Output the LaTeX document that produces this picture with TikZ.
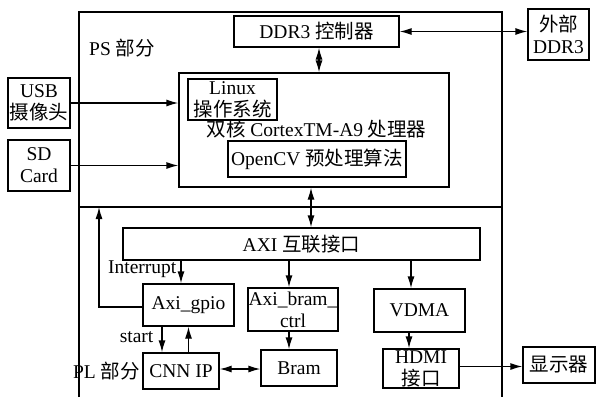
\documentclass[tikz,border=0pt]{standalone}
\usepackage{fontspec}
\setmainfont{Liberation Serif}
\newfontfamily\cjk{Noto Sans CJK SC}
\usetikzlibrary{positioning,arrows.meta}

\newcommand{\zh}[1]{{\cjk #1}}

\tikzset{
  block/.style={draw, line width=1.3pt, inner sep=0pt, align=center,
    font=\fontsize{19.5}{22}\selectfont},
  tag/.style={inner sep=0pt, font=\fontsize{19.5}{22}\selectfont},
}

\begin{document}
\begin{tikzpicture}[x=1pt, y=-1pt, line width=1.3pt,
    >={Latex[length=12pt,width=7pt]}]
    \useasboundingbox (0,0) rectangle (596,397);

    % PS / PL frame
    \draw (79,397) |- (502,12) -- (502,397);
    \draw (79,207) -- (502,207);
    \node[tag] (PsText) at (122,48) {PS \zh{部分}};

    % PS side
    \node[block, minimum width=165pt, minimum height=31pt] (DdrCtrl) at (316.5,31.5) {DDR3 \zh{控制器}};
    \node[block, minimum width=61pt, minimum height=51pt] (ExtDdr) at (558.5,34.5) {\zh{外部}\\DDR3};
    \node[block, minimum width=270pt, minimum height=114pt] (Cpu) at (314,130) {};
    \node[block, minimum width=89pt, minimum height=41pt] (Linux) at (232.5,99.5) {Linux\\\zh{操作系统}};
    \node[tag] (CpuText) at (316.5,129) {\zh{双核} CortexTM-A9 \zh{处理器}};
    \node[block, minimum width=178pt, minimum height=36pt] (OpenCv) at (317,159) {OpenCV \zh{预处理算法}};
    \node[block, minimum width=62pt, minimum height=50pt] (Usb) at (39,103) {USB\\\zh{摄像头}};
    \node[block, minimum width=62pt, minimum height=51pt] (Sd) at (39,165.5) {SD\\Card};

    % PL side
    \node[block, minimum width=357pt, minimum height=32pt] (Axi) at (301.5,244) {AXI \zh{互联接口}};
    \node[block, minimum width=91pt, minimum height=42pt] (Gpio) at (188.5,305) {Axi\_gpio};
    \node[block, minimum width=90pt, minimum height=43pt] (BramCtrl) at (293,309.5) {Axi\_bram\_\\ctrl};
    \node[block, minimum width=91pt, minimum height=43pt] (Vdma) at (419.5,310.5) {VDMA};
    \node[block, minimum width=76pt, minimum height=36pt] (Cnn) at (181,371) {CNN IP};
    \node[block, minimum width=76pt, minimum height=36pt] (Bram) at (299,368) {Bram};
    \node[block, minimum width=76pt, minimum height=39pt] (Hdmi) at (421,368.5) {HDMI\\\zh{接口}};
    \node[block, minimum width=72pt, minimum height=36pt] (Disp) at (559,365) {\zh{显示器}};
    \node[tag, left=2pt of Cnn] (PlText) {PL \zh{部分}};
    \node[tag, anchor=east] (IrqText) at (177,269) {Interrupt};
    \node[tag, anchor=east] (StartText) at (154,337) {start};
    \coordinate (IrqTop) at (99,207);

    \draw[<->] (DdrCtrl.east) -- (ExtDdr.west |- DdrCtrl.east);
    \draw[<->] ([xshift=2.5pt]DdrCtrl.south) -- ([xshift=2.5pt]DdrCtrl.south |- Cpu.north);
    \draw[->] (Usb.east) -- (Usb.east -| Cpu.west);
    \draw[->] (Sd.east) -- (Sd.east -| Cpu.west);
    \draw[<->] ([xshift=-3pt]Cpu.south) -- ([xshift=-3pt]Cpu.south |- Axi.north);

    \draw[->] ([xshift=-7.5pt]Gpio.north |- Axi.south) -- ([xshift=-7.5pt]Gpio.north);
    \draw[->] ([xshift=-4pt]BramCtrl.north |- Axi.south) -- ([xshift=-4pt]BramCtrl.north);
    \draw[->] ([xshift=-8.5pt]Vdma.north |- Axi.south) -- ([xshift=-8.5pt]Vdma.north);
    \draw[->] ([yshift=-2pt]Gpio.west) -| (IrqTop);
    \draw[->] ([xshift=-26.5pt]Gpio.south) -- ([xshift=-26.5pt]Gpio.south |- Cnn.north);
    \draw[->] (Gpio.south |- Cnn.north) -- (Gpio.south);
    \draw[->] ([xshift=-4pt]BramCtrl.south) -- ([xshift=-4pt]BramCtrl.south |- Bram.north);
    \draw[<->] ([yshift=2pt]Cnn.east) -- ([yshift=2pt]Cnn.east -| Bram.west);
    \draw[->] ([xshift=-10.5pt]Vdma.south) -- ([xshift=-10.5pt]Vdma.south |- Hdmi.north);
    \draw[->] ([yshift=2pt]Hdmi.east) -- ([yshift=2pt]Hdmi.east -| Disp.west);
\end{tikzpicture}
\end{document}
